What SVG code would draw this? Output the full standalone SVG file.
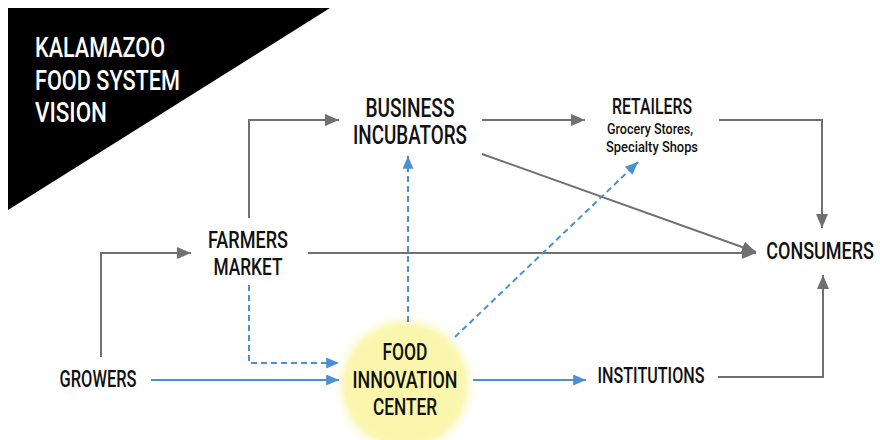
<svg xmlns="http://www.w3.org/2000/svg" width="880" height="440" viewBox="0 0 880 440">
<style>
.t{font-family:Roboto,"Liberation Sans",sans-serif;font-weight:500;fill:#111;text-anchor:middle}
.title{font-family:Roboto,"Liberation Sans",sans-serif;font-weight:500;fill:#fff}
.g{fill:none;stroke:#707070;stroke-width:2}
.b{fill:none;stroke:#4a90d4;stroke-width:2}
.bd{fill:none;stroke:#4a90d4;stroke-width:2;stroke-dasharray:6 4}
</style>
<defs>
<marker id="ag" viewBox="0 0 14 12" refX="14" refY="6" markerWidth="14" markerHeight="12" markerUnits="userSpaceOnUse" orient="auto"><path d="M0,0 L14,6 L0,12 z" fill="#707070"/></marker>
<marker id="ab" viewBox="0 0 14 12" refX="14" refY="6" markerWidth="14" markerHeight="11" markerUnits="userSpaceOnUse" orient="auto"><path d="M0,0 L14,6 L0,12 z" fill="#4a90d4"/></marker>
<radialGradient id="glow" cx="0.5" cy="0.5" r="0.5">
<stop offset="0" stop-color="#fbf6a8"/>
<stop offset="0.82" stop-color="#fbf6b0"/>
<stop offset="1" stop-color="#fdfbe0" stop-opacity="0"/>
</radialGradient>
</defs>
<rect width="880" height="440" fill="#fff"/>
<g id="title">
<path d="M8,8 L330,8 L8,210 z" fill="#000"/>
<text class="title" x="35" y="57" font-size="27" textLength="130" lengthAdjust="spacingAndGlyphs">KALAMAZOO</text>
<text class="title" x="35" y="90" font-size="27" textLength="145" lengthAdjust="spacingAndGlyphs">FOOD SYSTEM</text>
<text class="title" x="35" y="122" font-size="27" textLength="72" lengthAdjust="spacingAndGlyphs">VISION</text>
</g>
<g id="fic">
<circle cx="405" cy="385" r="72" fill="url(#glow)"/>
<text class="t" x="405" y="360" font-size="24" textLength="45" lengthAdjust="spacingAndGlyphs">FOOD</text>
<text class="t" x="405" y="388" font-size="24" textLength="105" lengthAdjust="spacingAndGlyphs">INNOVATION</text>
<text class="t" x="405" y="415" font-size="24" textLength="64" lengthAdjust="spacingAndGlyphs">CENTER</text>
</g>
<g id="connectors">
<path class="g" d="M249,218 V120 H339" marker-end="url(#ag)"/>
<path class="g" d="M482,120 H585" marker-end="url(#ag)"/>
<path class="g" d="M719,120 H822 V228" marker-end="url(#ag)"/>
<path class="g" d="M482,154 L756,252" marker-end="url(#ag)"/>
<path class="g" d="M308,253 H756" marker-end="url(#ag)"/>
<path class="g" d="M101,357 V253 H191" marker-end="url(#ag)"/>
<path class="g" d="M718,377 H823 V275" marker-end="url(#ag)"/>
<path class="bd" d="M249,285 V363 H339" marker-end="url(#ab)"/>
<path class="bd" d="M408,322 V156" marker-end="url(#ab)"/>
<path class="bd" d="M455,337 L638,162" marker-end="url(#ab)"/>
<path class="b" d="M151,380 H339" marker-end="url(#ab)"/>
<path class="b" d="M473,380 H586" marker-end="url(#ab)"/>
</g>
<g id="business">
<text class="t" x="410" y="117" font-size="25" textLength="89" lengthAdjust="spacingAndGlyphs">BUSINESS</text>
<text class="t" x="410" y="144" font-size="25" textLength="114" lengthAdjust="spacingAndGlyphs">INCUBATORS</text>
</g>
<g id="retailers">
<text class="t" x="652" y="114" font-size="22" textLength="80" lengthAdjust="spacingAndGlyphs">RETAILERS</text>
<text class="t" x="650" y="134" font-size="14" textLength="86" lengthAdjust="spacingAndGlyphs">Grocery Stores,</text>
<text class="t" x="652" y="152" font-size="14" textLength="92" lengthAdjust="spacingAndGlyphs">Specialty Shops</text>
</g>
<g id="farmers">
<text class="t" x="248" y="248" font-size="24" textLength="80" lengthAdjust="spacingAndGlyphs">FARMERS</text>
<text class="t" x="248" y="275" font-size="24" textLength="69" lengthAdjust="spacingAndGlyphs">MARKET</text>
</g>
<g id="consumers">
<text class="t" transform="translate(874,259) scale(0.75,1)" x="0" y="0" font-size="24" style="text-anchor:end">CONSUMERS</text>
</g>
<g id="growers">
<text class="t" x="98" y="387" font-size="23" textLength="77" lengthAdjust="spacingAndGlyphs">GROWERS</text>
</g>
<g id="institutions">
<text class="t" x="651" y="383" font-size="22" textLength="107" lengthAdjust="spacingAndGlyphs">INSTITUTIONS</text>
</g>
</svg>
